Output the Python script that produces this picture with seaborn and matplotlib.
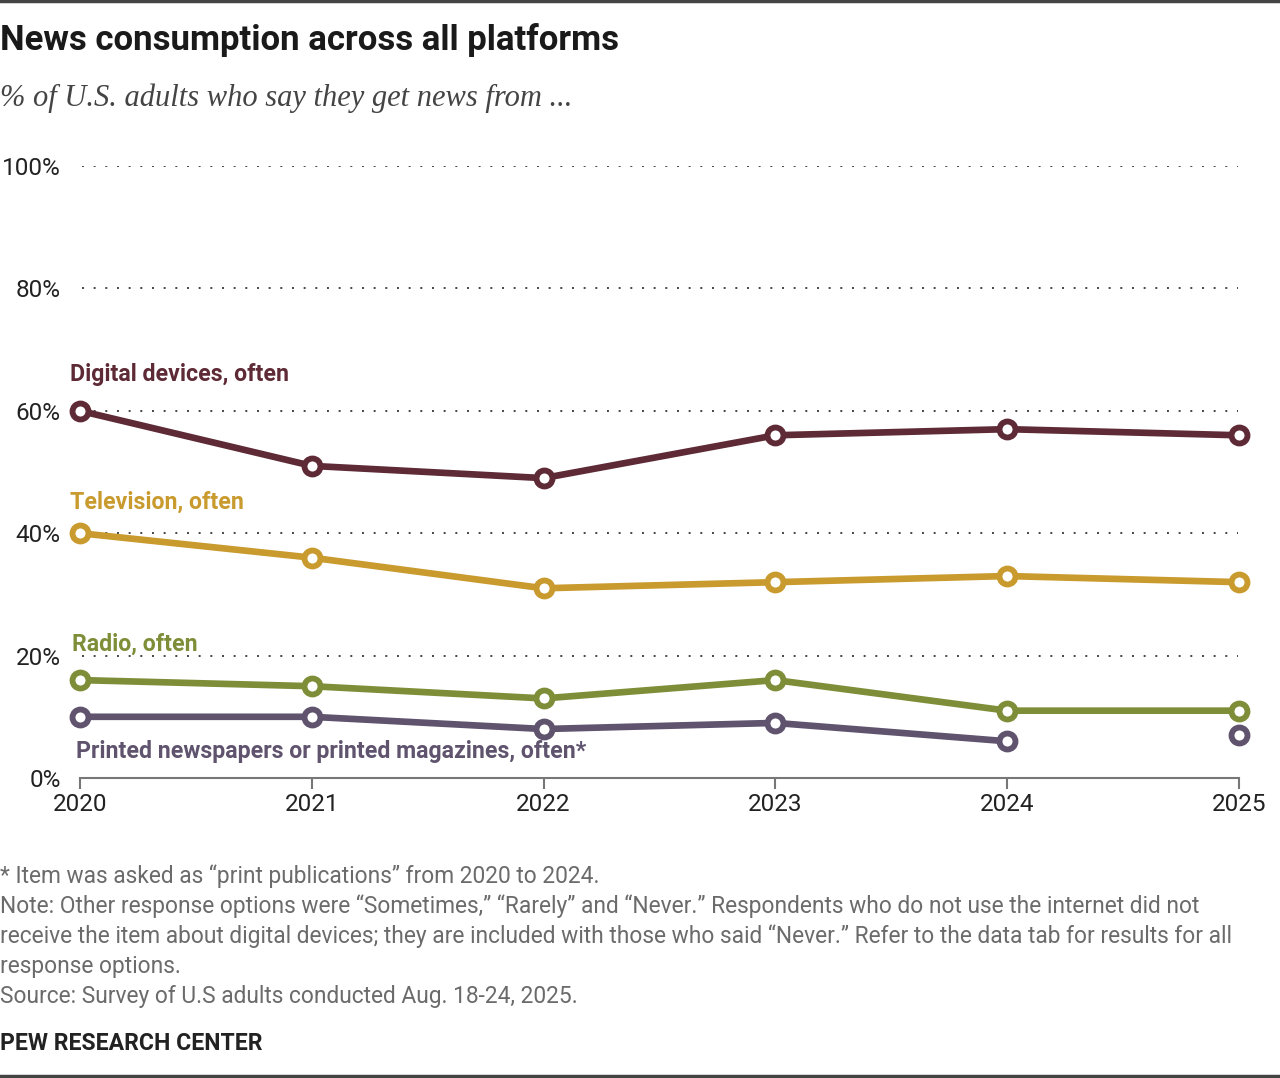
import matplotlib
matplotlib.use("Agg")
import matplotlib.pyplot as plt
import seaborn as sns
import pandas as pd

# --- Data ---
years = [2020, 2021, 2022, 2023, 2024, 2025]
digital = [60, 51, 49, 56, 57, 56]
television = [40, 36, 31, 32, 33, 32]
radio = [16, 15, 13, 16, 11, 11]
print_years = [2020, 2021, 2022, 2023, 2024]
print_pubs = [10, 10, 8, 9, 6]
print_2025_year = [2025]
print_2025 = [7]

series_labels = ["Digital devices, often", "Television, often", "Radio, often",
                 "Printed newspapers or printed magazines, often*"]
y_ticks = [0, 20, 40, 60, 80, 100]

colors = {"digital": "#5d2a35", "tv": "#c99a2d", "radio": "#7e8e38", "print": "#5f536e"}

sns.set_theme(style="white")
plt.rcParams['font.family'] = ['Roboto', 'DejaVu Sans']

fig = plt.figure(figsize=(12.8, 10.78), dpi=100)
ax = fig.add_axes([80 / 1280, (1078 - 778) / 1078, (1239 - 80) / 1280, (778 - 166) / 1078])

def draw(xs, ys, color, line=True):
    df = pd.DataFrame({"year": xs, "value": ys})
    sns.lineplot(data=df, x="year", y="value", ax=ax, color=color,
                 linewidth=4.8 if line else 0, marker="o", markersize=11.5,
                 markerfacecolor="white", markeredgecolor=color, markeredgewidth=4.2,
                 clip_on=False, zorder=3)

draw(years, digital, colors["digital"])
draw(years, television, colors["tv"])
draw(years, radio, colors["radio"])
draw(print_years, print_pubs, colors["print"])
draw(print_2025_year, print_2025, colors["print"], line=False)

ax.set_xlim(2020, 2025)
ax.set_ylim(0, 100)
ax.set_xticks(years)
ax.set_xticklabels([str(y) for y in years], fontsize=17.5, color="#222222")
ax.set_yticks(y_ticks)
ax.set_yticklabels([f"{v}%" for v in y_ticks], fontsize=17.5, color="#222222")
ax.tick_params(axis="x", length=8, width=1.5, color="#777777", pad=3, bottom=True)
ax.tick_params(axis="y", length=0, pad=14)
for v in y_ticks[1:]:
    ax.plot([2020.01, 2024.995], [v, v], linestyle=(0, (1, 5)), color="#444444",
            linewidth=1.4, zorder=1)
for s in ["top", "right", "left"]:
    ax.spines[s].set_visible(False)
ax.spines["bottom"].set_color("#777777")
ax.spines["bottom"].set_linewidth(1.5)
ax.set_xlabel("")
ax.set_ylabel("")
ax.grid(False)

# --- Series labels ---
lab_kw = dict(fontsize=16.7, fontweight="bold", va="center", ha="left")
ax.text(2019.957, 66, series_labels[0], color=colors["digital"], **lab_kw)
ax.text(2019.957, 45.1, series_labels[1], color=colors["tv"], **lab_kw)
ax.text(2019.966, 21.9, series_labels[2], color=colors["radio"], **lab_kw)
ax.text(2019.983, 4.25, series_labels[3], color=colors["print"], **lab_kw)

# --- Title, subtitle ---
fig.text(0.0, 1 - 40 / 1078, "News consumption across all platforms", fontsize=25,
         fontweight="bold", color="#1a1a1a", va="center", ha="left")
fig.text(0.0, 1 - 98 / 1078, "% of U.S. adults who say they get news from ...", fontsize=22,
         style="italic", color="#444444", va="center", ha="left",
         family=['Liberation Serif', 'DejaVu Serif'])

# --- Notes ---
notes = [
    "* Item was asked as \u201cprint publications\u201d from 2020 to 2024.",
    "Note: Other response options were \u201cSometimes,\u201d \u201cRarely\u201d and \u201cNever.\u201d Respondents who do not use the internet did not",
    "receive the item about digital devices; they are included with those who said \u201cNever.\u201d Refer to the data tab for results for all",
    "response options.",
    "Source: Survey of U.S adults conducted Aug. 18-24, 2025.",
]
for i, line in enumerate(notes):
    fig.text(0.0, 1 - (876 + 30 * i) / 1078, line, fontsize=16.4, color="#6b6b6b",
             va="center", ha="left")
fig.text(0.0, 1 - 1044 / 1078, "PEW RESEARCH CENTER", fontsize=16.6, fontweight="bold",
         color="#222222", va="center", ha="left")

# frame lines
fig.add_artist(plt.Line2D([0, 1], [1 - 1 / 1078, 1 - 1 / 1078], color="#444444", linewidth=2.5))
fig.add_artist(plt.Line2D([0, 1], [1 - 1076 / 1078, 1 - 1076 / 1078], color="#444444", linewidth=2.5))

fig.savefig("out.png", dpi=100)
